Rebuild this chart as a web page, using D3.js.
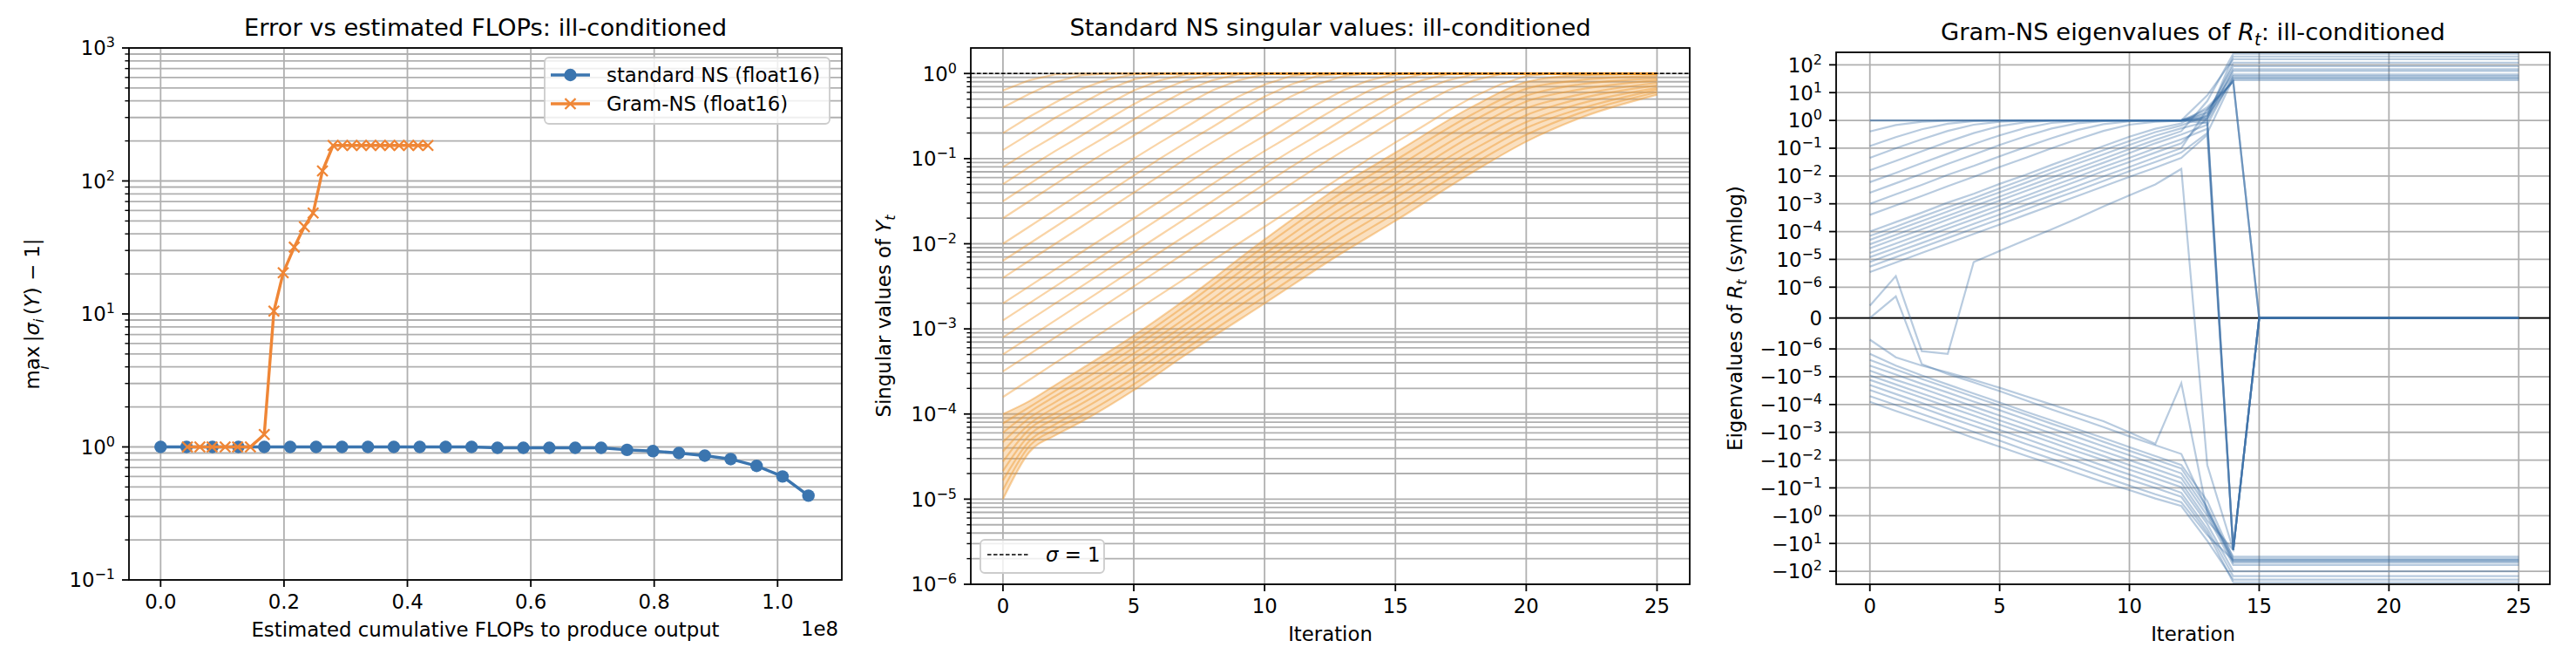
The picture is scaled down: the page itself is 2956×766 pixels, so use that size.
<!DOCTYPE html>
<html>
<head>
<meta charset="utf-8">
<script src="https://cdn.jsdelivr.net/npm/d3@7"></script>
<style>
  html, body { margin: 0; padding: 0; background: #fff; }
  svg { display: block; }
</style>
</head>
<body>
<div id="chart"></div>
<script>
/* ============================================================
   Newton-Schulz comparison — three panels, ill-conditioned case
   ============================================================ */

/* ---------- Panel 1: error vs FLOPs ---------- */
const stdFlops = [0, 4.2e6, 8.4e6, 1.26e7, 1.68e7, 2.1e7, 2.52e7, 2.94e7, 3.36e7, 3.78e7, 4.2e7, 4.62e7, 5.04e7,
  5.46e7, 5.88e7, 6.3e7, 6.72e7, 7.14e7, 7.56e7, 7.98e7, 8.4e7, 8.82e7, 9.24e7, 9.66e7, 1.008e8, 1.05e8];
const stdErr = [1, 1, 1, 1, 1, 1, 1, 1, 1, 1, 1, 1, 1,
  0.985, 0.985, 0.985, 0.985, 0.985, 0.95, 0.93, 0.90, 0.86, 0.81, 0.72, 0.60, 0.43];
const gramFlops = [4.34e6, 6.36e6, 8.34e6, 1.046e7, 1.248e7, 1.455e7, 1.68e7, 1.836e7, 1.987e7, 2.166e7, 2.33e7,
  2.472e7, 2.623e7, 2.795e7, 2.948e7, 3.101e7, 3.254e7, 3.407e7, 3.56e7, 3.713e7, 3.866e7, 4.019e7, 4.172e7, 4.333e7];
const gramErr = [1, 1, 1, 1, 1, 1, 1.24, 10.5, 20.4, 31.8, 45.3, 57.4, 119,
  185, 185, 185, 185, 185, 185, 185, 185, 185, 185, 185];
const p1XTicks = [0, 2e7, 4e7, 6e7, 8e7, 1e8];
const p1XLabels = ['0.0', '0.2', '0.4', '0.6', '0.8', '1.0'];

/* ---------- Panel 2: standard NS singular values (log10 of sigma) ---------- */
const iterations = [0, 1, 2, 3, 4, 5, 6, 7, 8, 9, 10, 11, 12, 13, 14, 15, 16, 17, 18, 19, 20, 21, 22, 23, 24, 25];
const fanLog10 = [
  [-0.2, -0.08, -0.01, 0, 0, 0, 0, 0, 0, 0, 0, 0, 0, 0, 0, 0, 0, 0, 0, 0, 0, 0, 0, 0, 0, 0],
  [-0.4, -0.24, -0.1, -0.02, 0, 0, 0, 0, 0, 0, 0, 0, 0, 0, 0, 0, 0, 0, 0, 0, 0, 0, 0, 0, 0, 0],
  [-0.7, -0.51, -0.34, -0.18, -0.07, -0.01, 0, 0, 0, 0, 0, 0, 0, 0, 0, 0, 0, 0, 0, 0, 0, 0, 0, 0, 0, 0],
  [-0.9, -0.71, -0.52, -0.35, -0.19, -0.07, -0.01, 0, 0, 0, 0, 0, 0, 0, 0, 0, 0, 0, 0, 0, 0, 0, 0, 0, 0, 0],
  [-1.1, -0.91, -0.73, -0.54, -0.36, -0.2, -0.08, -0.01, 0, 0, 0, 0, 0, 0, 0, 0, 0, 0, 0, 0, 0, 0, 0, 0, 0, 0],
  [-1.3, -1.1, -0.91, -0.73, -0.54, -0.36, -0.2, -0.08, -0.01, 0, 0, 0, 0, 0, 0, 0, 0, 0, 0, 0, 0, 0, 0, 0, 0, 0],
  [-1.5, -1.3, -1.1, -0.91, -0.73, -0.54, -0.36, -0.2, -0.08, -0.01, 0, 0, 0, 0, 0, 0, 0, 0, 0, 0, 0, 0, 0, 0, 0, 0],
  [-1.7, -1.5, -1.3, -1.1, -0.91, -0.73, -0.54, -0.36, -0.2, -0.08, -0.01, 0, 0, 0, 0, 0, 0, 0, 0, 0, 0, 0, 0, 0, 0, 0],
  [-2.0, -1.8, -1.6, -1.4, -1.2, -1.0, -0.81, -0.63, -0.44, -0.27, -0.13, -0.03, 0, 0, 0, 0, 0, 0, 0, 0, 0, 0, 0, 0, 0, 0],
  [-2.2, -2.0, -1.8, -1.6, -1.4, -1.2, -1.0, -0.81, -0.63, -0.44, -0.27, -0.13, -0.03, 0, 0, 0, 0, 0, 0, 0, 0, 0, 0, 0, 0, 0],
  [-2.4, -2.2, -2.0, -1.8, -1.6, -1.4, -1.2, -1.0, -0.81, -0.63, -0.44, -0.27, -0.13, -0.03, 0, 0, 0, 0, 0, 0, 0, 0, 0, 0, 0, 0],
  [-2.7, -2.5, -2.3, -2.1, -1.9, -1.7, -1.5, -1.3, -1.1, -0.91, -0.73, -0.54, -0.36, -0.2, -0.08, -0.01, 0, 0, 0, 0, 0, 0, 0, 0, 0, 0],
  [-2.9, -2.7, -2.5, -2.3, -2.1, -1.9, -1.7, -1.5, -1.3, -1.1, -0.91, -0.73, -0.54, -0.36, -0.2, -0.08, -0.01, 0, 0, 0, 0, 0, 0, 0, 0, 0],
  [-3.1, -2.9, -2.7, -2.5, -2.3, -2.1, -1.9, -1.7, -1.5, -1.3, -1.1, -0.91, -0.73, -0.54, -0.36, -0.2, -0.08, -0.01, 0, 0, 0, 0, 0, 0, 0, 0],
  [-3.3, -3.1, -2.9, -2.7, -2.5, -2.3, -2.1, -1.9, -1.7, -1.5, -1.3, -1.1, -0.91, -0.73, -0.54, -0.36, -0.2, -0.08, -0.01, 0, 0, 0, 0, 0, 0, 0],
  [-3.5, -3.3, -3.1, -2.9, -2.7, -2.5, -2.3, -2.1, -1.9, -1.7, -1.5, -1.3, -1.1, -0.91, -0.73, -0.54, -0.36, -0.2, -0.08, -0.01, 0, 0, 0, 0, 0, 0],
  [-3.8, -3.6, -3.4, -3.2, -3.0, -2.8, -2.6, -2.4, -2.2, -2.0, -1.8, -1.6, -1.4, -1.2, -1.0, -0.81, -0.63, -0.44, -0.27, -0.13, -0.03, 0, 0, 0, 0, 0]
];
// dense cluster of small singular values, read at a subset of iterations
const bandIters = [0, 1, 2, 3, 5, 7, 10, 13, 15, 18, 20, 22, 25];
const bandLog10 = [
  [-4.0, -3.85, -3.66, -3.47, -3.08, -2.65, -1.95, -1.3, -0.93, -0.38, -0.1, -0.02, 0],
  [-4.11, -3.92, -3.73, -3.54, -3.15, -2.72, -2.03, -1.39, -1.02, -0.47, -0.18, -0.08, -0.03],
  [-4.22, -3.98, -3.79, -3.61, -3.22, -2.79, -2.12, -1.48, -1.11, -0.55, -0.26, -0.13, -0.06],
  [-4.33, -4.05, -3.86, -3.68, -3.29, -2.87, -2.2, -1.57, -1.2, -0.64, -0.33, -0.19, -0.08],
  [-4.44, -4.12, -3.92, -3.75, -3.36, -2.94, -2.28, -1.66, -1.29, -0.72, -0.41, -0.25, -0.11],
  [-4.56, -4.18, -3.99, -3.82, -3.44, -3.01, -2.37, -1.74, -1.37, -0.81, -0.49, -0.3, -0.14],
  [-4.67, -4.25, -4.05, -3.88, -3.51, -3.08, -2.45, -1.83, -1.46, -0.89, -0.57, -0.36, -0.17],
  [-4.78, -4.32, -4.12, -3.95, -3.58, -3.16, -2.53, -1.92, -1.55, -0.98, -0.64, -0.42, -0.19],
  [-4.89, -4.38, -4.18, -4.02, -3.65, -3.23, -2.62, -2.01, -1.64, -1.06, -0.72, -0.47, -0.22],
  [-5.0, -4.45, -4.25, -4.09, -3.72, -3.3, -2.7, -2.1, -1.73, -1.15, -0.8, -0.53, -0.25]
];
const p2XTicks = [0, 5, 10, 15, 20, 25];

/* ---------- Panel 3: Gram-NS eigenvalues of R_t ---------- */
const eigLines = [
  [1, 1, 1, 1, 1, 1, 1, 1, 1, 1, 1, 1, 1, 1.5, 120, 120, 120, 120, 120, 120, 120, 120, 120, 120, 120, 120],
  [1, 1, 1, 1, 1, 1, 1, 1, 1, 1, 1, 1, 1, 2.5, 25, 0, 0, 0, 0, 0, 0, 0, 0, 0, 0, 0],
  [0.4, 0.68, 0.9, 0.98, 1, 1, 1, 1, 1, 1, 1, 1, 1, 1.3, 200, 200, 200, 200, 200, 200, 200, 200, 200, 200, 200, 200],
  [0.12, 0.25, 0.48, 0.76, 0.94, 0.99, 1, 1, 1, 1, 1, 1, 1, 1.2, 60, 60, 60, 60, 60, 60, 60, 60, 60, 60, 60, 60],
  [0.045, 0.1, 0.21, 0.42, 0.7, 0.9, 0.98, 1, 1, 1, 1, 1, 1, 1.8, 90, 90, 90, 90, 90, 90, 90, 90, 90, 90, 90, 90],
  [0.016, 0.035, 0.077, 0.17, 0.35, 0.62, 0.86, 0.97, 1, 1, 1, 1, 1, 8, 160, 160, 160, 160, 160, 160, 160, 160, 160, 160, 160, 160],
  [6e-3, 0.013, 0.029, 0.064, 0.14, 0.29, 0.54, 0.81, 0.95, 0.99, 1, 1, 1, 1.1, -17, 0, 0, 0, 0, 0, 0, 0, 0, 0, 0, 0],
  [2.5e-3, 5.5e-3, 0.012, 0.027, 0.059, 0.13, 0.27, 0.51, 0.79, 0.95, 0.99, 1, 1, 2, 45, 45, 45, 45, 45, 45, 45, 45, 45, 45, 45, 45],
  [1e-3, 2.2e-3, 4.8e-3, 0.011, 0.023, 0.051, 0.11, 0.23, 0.45, 0.73, 0.92, 0.99, 1, 1, 35, 35, 35, 35, 35, 35, 35, 35, 35, 35, 35, 35],
  [4e-4, 8.8e-4, 1.9e-3, 4.3e-3, 9.4e-3, 0.021, 0.045, 0.1, 0.21, 0.42, 0.7, 0.9, 0.98, 0.8, -17, 0, 0, 0, 0, 0, 0, 0, 0, 0, 0, 0],
  [1e-4, 2.2e-4, 4.8e-4, 1.1e-3, 2.3e-3, 5.2e-3, 0.011, 0.025, 0.055, 0.12, 0.26, 0.5, 0.78, 3, 25, 0, 0, 0, 0, 0, 0, 0, 0, 0, 0, 0],
  [7e-5, 1.5e-4, 3.4e-4, 7.5e-4, 1.6e-3, 3.6e-3, 8e-3, 0.018, 0.039, 0.085, 0.18, 0.38, 0.66, 1.5, 28, 28, 28, 28, 28, 28, 28, 28, 28, 28, 28, 28],
  [5e-5, 1.1e-4, 2.4e-4, 5.3e-4, 1.2e-3, 2.6e-3, 5.7e-3, 0.013, 0.028, 0.06, 0.13, 0.28, 0.52, 0.9, -17, 0, 0, 0, 0, 0, 0, 0, 0, 0, 0, 0],
  [3.5e-5, 7.7e-5, 1.7e-4, 3.7e-4, 8.2e-4, 1.8e-3, 4e-3, 8.8e-3, 0.019, 0.042, 0.093, 0.2, 0.41, 5, 250, 250, 250, 250, 250, 250, 250, 250, 250, 250, 250, 250],
  [2.5e-5, 5.5e-5, 1.2e-4, 2.7e-4, 5.9e-4, 1.3e-3, 2.9e-3, 6.3e-3, 0.014, 0.03, 0.067, 0.15, 0.31, 0.7, 40, 40, 40, 40, 40, 40, 40, 40, 40, 40, 40, 40],
  [1.7e-5, 3.7e-5, 8.2e-5, 1.8e-4, 4e-4, 8.8e-4, 1.9e-3, 4.3e-3, 9.4e-3, 0.021, 0.045, 0.1, 0.21, 0.5, -17, 0, 0, 0, 0, 0, 0, 0, 0, 0, 0, 0],
  [1.2e-5, 2.6e-5, 5.8e-5, 1.3e-4, 2.8e-4, 6.2e-4, 1.4e-3, 3e-3, 6.6e-3, 0.015, 0.032, 0.07, 0.15, 1.2, 70, 70, 70, 70, 70, 70, 70, 70, 70, 70, 70, 70],
  [8e-6, 1.8e-5, 3.9e-5, 8.5e-5, 1.9e-4, 4.1e-4, 9e-4, 2e-3, 4.4e-3, 9.7e-3, 0.021, 0.047, 0.1, 2.5, 26, 0, 0, 0, 0, 0, 0, 0, 0, 0, 0, 0],
  [5.5e-6, 1.2e-5, 2.7e-5, 5.9e-5, 1.3e-4, 2.8e-4, 6.2e-4, 1.4e-3, 3e-3, 6.6e-3, 0.015, 0.032, 0.07, 0.35, 32, 32, 32, 32, 32, 32, 32, 32, 32, 32, 32, 32],
  [3.5e-6, 7.7e-6, 1.7e-5, 3.7e-5, 8.2e-5, 1.8e-4, 4e-4, 8.8e-4, 1.9e-3, 4.2e-3, 9.3e-3, 0.02, 0.045, 0.3, -17, 0, 0, 0, 0, 0, 0, 0, 0, 0, 0, 0],
  [-1.5e-6, -4e-6, -9e-6, -1.9e-5, -4e-5, -8.4e-5, -1.8e-4, -3.7e-4, -7.8e-4, -1.6e-3, -3.4e-3, -7.2e-3, -0.015, -0.3, -35, -35, -35, -35, -35, -35, -35, -35, -35, -35, -35, -35],
  [-2.5e-6, -5.5e-6, -1.2e-5, -2.5e-5, -5.3e-5, -1.1e-4, -2.3e-4, -4.9e-4, -1e-3, -2.2e-3, -4.6e-3, -9.6e-3, -0.02, -0.5, -45, -45, -45, -45, -45, -45, -45, -45, -45, -45, -45, -45],
  [-4e-6, -8.4e-6, -1.8e-5, -3.7e-5, -7.8e-5, -1.6e-4, -3.4e-4, -7.2e-4, -1.5e-3, -3.2e-3, -6.7e-3, -0.014, -0.03, -0.7, -30, -30, -30, -30, -30, -30, -30, -30, -30, -30, -30, -30],
  [-6e-6, -1.3e-5, -2.6e-5, -5.6e-5, -1.2e-4, -2.5e-4, -5.2e-4, -1.1e-3, -2.3e-3, -4.8e-3, -0.01, -0.021, -0.044, -1, -60, -60, -60, -60, -60, -60, -60, -60, -60, -60, -60, -60],
  [-9e-6, -1.9e-5, -4e-5, -8.3e-5, -1.7e-4, -3.7e-4, -7.7e-4, -1.6e-3, -3.4e-3, -7.1e-3, -0.015, -0.031, -0.066, -1.5, -17, 0, 0, 0, 0, 0, 0, 0, 0, 0, 0, 0],
  [-1.3e-5, -2.7e-5, -5.7e-5, -1.2e-4, -2.5e-4, -5.3e-4, -1.1e-3, -2.3e-3, -4.9e-3, -0.01, -0.022, -0.045, -0.095, -2, -100, -100, -100, -100, -100, -100, -100, -100, -100, -100, -100, -100],
  [-2e-5, -4.2e-5, -8.8e-5, -1.9e-4, -3.9e-4, -8.2e-4, -1.7e-3, -3.6e-3, -7.6e-3, -0.016, -0.033, -0.07, -0.15, -3, -150, -150, -150, -150, -150, -150, -150, -150, -150, -150, -150, -150],
  [-3e-5, -6.3e-5, -1.3e-4, -2.8e-4, -5.8e-4, -1.2e-3, -2.6e-3, -5.4e-3, -0.011, -0.024, -0.05, -0.1, -0.21, -4, -250, -250, -250, -250, -250, -250, -250, -250, -250, -250, -250, -250],
  [-5e-5, -1.05e-4, -2.2e-4, -4.6e-4, -9.7e-4, -2e-3, -4.3e-3, -9e-3, -0.019, -0.04, -0.083, -0.17, -0.33, -5, -40, -40, -40, -40, -40, -40, -40, -40, -40, -40, -40, -40],
  [-8e-5, -1.7e-4, -3.5e-4, -7.4e-4, -1.6e-3, -3.3e-3, -6.9e-3, -0.014, -0.03, -0.062, -0.12, -0.24, -0.45, -8, -200, -200, -200, -200, -200, -200, -200, -200, -200, -200, -200, -200],
  [4e-7, 2.5e-6, -1.2e-6, -1.5e-6, 8e-6, 2e-5, 5e-5, 1.2e-4, 3e-4, 8e-4, 2e-3, 5e-3, 0.018, -0.015, -17, 0, 0, 0, 0, 0, 0, 0, 0, 0, 0, 0],
  [0, 7e-7, -3.5e-6, -8e-6, -1.6e-5, -3.3e-5, -7e-5, -1.5e-4, -3.1e-4, -6.5e-4, -1.4e-3, -2.9e-3, -6e-3, -0.6, -50, -50, -50, -50, -50, -50, -50, -50, -50, -50, -50, -50],
  [-7e-7, -2e-6, -4e-6, -7e-6, -1.3e-5, -2.5e-5, -5e-5, -1e-4, -2e-4, -4e-4, -1e-3, -2.6e-3, -1.7e-5, -0.8, -40, -40, -40, -40, -40, -40, -40, -40, -40, -40, -40, -40]
];
const p3YTicks = [100, 10, 1, 0.1, 0.01, 1e-3, 1e-4, 1e-5, 1e-6, 0, -1e-6, -1e-5, -1e-4, -1e-3, -0.01, -0.1, -1, -10, -100];

(function () {
  'use strict';

  const FS = 22.8;          // tick / label font size
  const SUP = 16;           // superscript size
  const GRID = '#b0b0b0';
  const C_BLUE = '#3b75af';
  const C_ORANGE = '#ef8636';

  const svg = d3.select('#chart').append('svg')
    .attr('width', 2956).attr('height', 766)
    .attr('font-family', '"DejaVu Sans", sans-serif')
    .attr('font-size', FS)
    .attr('fill', '#000');
  const defs = svg.append('defs');

  /* ---------- Helpers ---------- */
  function clipFor(id, b) {
    defs.append('clipPath').attr('id', id).append('rect')
      .attr('x', b.x0).attr('y', b.y0).attr('width', b.x1 - b.x0).attr('height', b.y1 - b.y0);
    return 'url(#' + id + ')';
  }

  function hGrid(g, b, ys) {
    g.append('g').selectAll('line').data(ys).join('line')
      .attr('x1', b.x0).attr('x2', b.x1)
      .attr('y1', d => d).attr('y2', d => d)
      .attr('stroke', GRID).attr('stroke-width', 1.8);
  }

  function vGrid(g, b, xs) {
    g.append('g').selectAll('line').data(xs).join('line')
      .attr('y1', b.y0).attr('y2', b.y1)
      .attr('x1', d => d).attr('x2', d => d)
      .attr('stroke', GRID).attr('stroke-width', 1.8);
  }

  function yTickMarks(g, b, ys, len, w) {
    g.append('g').selectAll('line').data(ys).join('line')
      .attr('x1', b.x0 - len).attr('x2', b.x0)
      .attr('y1', d => d).attr('y2', d => d)
      .attr('stroke', '#000').attr('stroke-width', w);
  }

  function xTicks(g, b, xs, labels) {
    g.append('g').selectAll('line').data(xs).join('line')
      .attr('x1', d => d).attr('x2', d => d)
      .attr('y1', b.y1).attr('y2', b.y1 + 8)
      .attr('stroke', '#000').attr('stroke-width', 1.8);
    g.append('g').selectAll('text').data(xs).join('text')
      .attr('x', d => d).attr('y', b.y1 + 33)
      .attr('text-anchor', 'middle')
      .text((d, i) => labels[i]);
  }

  // "10^k" (optionally negated) tick label
  function powLabel(g, x, y, exp, neg) {
    const t = g.append('text').attr('x', x).attr('y', y + 8.3).attr('text-anchor', 'end');
    t.append('tspan').text((neg ? '\u2212' : '') + '10');
    t.append('tspan').attr('dy', -9).attr('font-size', SUP)
      .text(exp < 0 ? '\u2212' + (-exp) : String(exp));
    return t;
  }

  function frame(g, b) {
    g.append('rect')
      .attr('x', b.x0).attr('y', b.y0).attr('width', b.x1 - b.x0).attr('height', b.y1 - b.y0)
      .attr('fill', 'none').attr('stroke', '#000').attr('stroke-width', 1.8);
  }

  function title(g, b, y) {
    return g.append('text').attr('x', (b.x0 + b.x1) / 2).attr('y', y)
      .attr('text-anchor', 'middle').attr('font-size', FS * 1.2);
  }

  const isMajor = v => Math.abs(Math.log10(v) - Math.round(Math.log10(v))) < 1e-9;

  /* ============================================================
     Panel 1
     ============================================================ */
  const B1 = { x0: 148, x1: 966, y0: 55, y1: 665 };
  const g1 = svg.append('g');
  const x1 = d3.scaleLinear().domain([-5.13e6, 1.1041e8]).range([B1.x0, B1.x1]);
  const y1 = d3.scaleLog().domain([0.1, 1000]).range([B1.y1, B1.y0]);
  const y1Ticks = y1.ticks();

  hGrid(g1, B1, y1Ticks.map(y1));
  vGrid(g1, B1, p1XTicks.map(x1));

  const clip1 = clipFor('clip1', B1);
  const plot1 = g1.append('g').attr('clip-path', clip1);
  const line1 = d3.line().x(d => x1(d[0])).y(d => y1(d[1]));

  const stdPts = d3.zip(stdFlops, stdErr);
  const gramPts = d3.zip(gramFlops, gramErr);

  plot1.append('path').attr('d', line1(stdPts))
    .attr('fill', 'none').attr('stroke', C_BLUE).attr('stroke-width', 3.4);
  plot1.append('g').selectAll('circle').data(stdPts).join('circle')
    .attr('cx', d => x1(d[0])).attr('cy', d => y1(d[1])).attr('r', 7.2)
    .attr('fill', C_BLUE);

  const xMark = 'M-6,-6L6,6M-6,6L6,-6';
  plot1.append('path').attr('d', line1(gramPts))
    .attr('fill', 'none').attr('stroke', C_ORANGE).attr('stroke-width', 3.4);
  plot1.append('g').selectAll('path').data(gramPts).join('path')
    .attr('transform', d => `translate(${x1(d[0])},${y1(d[1])})`)
    .attr('d', xMark).attr('stroke', C_ORANGE).attr('stroke-width', 2.3).attr('fill', 'none');

  frame(g1, B1);
  yTickMarks(g1, B1, y1Ticks.filter(v => !isMajor(v)).map(y1), 4.6, 1.4);
  yTickMarks(g1, B1, y1Ticks.filter(isMajor).map(y1), 8, 1.8);
  y1Ticks.filter(isMajor).forEach(v => powLabel(g1, B1.x0 - 16, y1(v), Math.round(Math.log10(v)), false));
  xTicks(g1, B1, p1XTicks.map(x1), p1XLabels);
  g1.append('text').attr('x', B1.x1 - 4).attr('y', 729).attr('text-anchor', 'end').text('1e8');

  title(g1, B1, 41).text('Error vs estimated FLOPs: ill-conditioned');
  g1.append('text').attr('x', (B1.x0 + B1.x1) / 2).attr('y', 730).attr('text-anchor', 'middle')
    .text('Estimated cumulative FLOPs to produce output');

  // y label: max_i |sigma_i(Y) - 1|
  const yl1 = g1.append('g').attr('transform', `translate(45,${(B1.y0 + B1.y1) / 2}) rotate(-90)`);
  const yl1t = yl1.append('text').attr('x', 0).attr('y', 0);
  const maxSpan = yl1t.append('tspan').text('max');
  yl1t.append('tspan').text('\u2009|');
  yl1t.append('tspan').attr('font-style', 'italic').text('\u03c3');
  yl1t.append('tspan').attr('font-style', 'italic').attr('font-size', SUP).attr('dy', 5).text('i');
  yl1t.append('tspan').attr('dy', -5).text('\u2009(');
  yl1t.append('tspan').attr('font-style', 'italic').text('Y');
  yl1t.append('tspan').text(') \u2212 1|');
  const wAll = yl1t.node().getComputedTextLength();
  const wMax = maxSpan.node().getComputedTextLength();
  yl1t.attr('x', -wAll / 2);
  yl1.append('text').attr('x', -wAll / 2 + wMax / 2).attr('y', 11)
    .attr('text-anchor', 'middle').attr('font-size', SUP).attr('font-style', 'italic').text('i');

  // legend
  const lg1 = g1.append('g');
  lg1.append('rect').attr('x', 625).attr('y', 66).attr('width', 327).attr('height', 76).attr('rx', 5)
    .attr('fill', '#fff').attr('fill-opacity', 0.8).attr('stroke', '#cccccc').attr('stroke-width', 1.8);
  lg1.append('line').attr('x1', 632).attr('x2', 677).attr('y1', 86).attr('y2', 86)
    .attr('stroke', C_BLUE).attr('stroke-width', 3.4);
  lg1.append('circle').attr('cx', 654.5).attr('cy', 86).attr('r', 7.2).attr('fill', C_BLUE);
  lg1.append('text').attr('x', 696).attr('y', 94).text('standard NS (float16)');
  lg1.append('line').attr('x1', 632).attr('x2', 677).attr('y1', 119).attr('y2', 119)
    .attr('stroke', C_ORANGE).attr('stroke-width', 3.4);
  lg1.append('path').attr('transform', 'translate(654.5,119)').attr('d', xMark)
    .attr('stroke', C_ORANGE).attr('stroke-width', 2.3);
  lg1.append('text').attr('x', 696).attr('y', 127).text('Gram-NS (float16)');

  /* ============================================================
     Panel 2
     ============================================================ */
  const B2 = { x0: 1114, x1: 1939, y0: 55, y1: 670 };
  const g2 = svg.append('g');
  const x2 = d3.scaleLinear().domain([-1.23, 26.25]).range([B2.x0, B2.x1]);
  const y2 = d3.scaleLog().domain([1e-6, 1.995]).range([B2.y1, B2.y0]);
  const y2Ticks = y2.ticks();

  hGrid(g2, B2, y2Ticks.map(y2));
  vGrid(g2, B2, p2XTicks.map(x2));

  const plot2 = g2.append('g').attr('clip-path', clipFor('clip2', B2));
  const C_SV = '#f0982e';

  // filled cluster region between the outermost band lines
  const bandArea = d3.area()
    .x((d, i) => x2(bandIters[i]))
    .y0((d, i) => y2(Math.pow(10, bandLog10[bandLog10.length - 1][i])))
    .y1(d => y2(Math.pow(10, d)))
    .curve(d3.curveMonotoneX);
  plot2.append('path').attr('d', bandArea(bandLog10[0]))
    .attr('fill', C_SV).attr('fill-opacity', 0.3);

  const bandLine = d3.line()
    .x((d, i) => x2(bandIters[i])).y(d => y2(Math.pow(10, d)))
    .curve(d3.curveMonotoneX);
  plot2.append('g').selectAll('path').data(bandLog10).join('path')
    .attr('d', bandLine).attr('fill', 'none')
    .attr('stroke', C_SV).attr('stroke-width', 2.2).attr('stroke-opacity', 0.45);

  const fanLine = d3.line()
    .x((d, i) => x2(iterations[i])).y(d => y2(Math.pow(10, d)));
  plot2.append('g').selectAll('path').data(fanLog10).join('path')
    .attr('d', fanLine).attr('fill', 'none')
    .attr('stroke', C_SV).attr('stroke-width', 2.2).attr('stroke-opacity', 0.42);

  // sigma = 1 reference
  plot2.append('line').attr('x1', B2.x0).attr('x2', B2.x1).attr('y1', y2(1)).attr('y2', y2(1))
    .attr('stroke', '#000').attr('stroke-width', 1.6).attr('stroke-dasharray', '4.5,2.5');

  frame(g2, B2);
  yTickMarks(g2, B2, y2Ticks.filter(v => !isMajor(v)).map(y2), 4.6, 1.4);
  yTickMarks(g2, B2, y2Ticks.filter(isMajor).map(y2), 8, 1.8);
  y2Ticks.filter(isMajor).forEach(v => powLabel(g2, B2.x0 - 16, y2(v), Math.round(Math.log10(v)), false));
  xTicks(g2, B2, p2XTicks.map(x2), p2XTicks.map(String));

  title(g2, B2, 41).text('Standard NS singular values: ill-conditioned');
  g2.append('text').attr('x', (B2.x0 + B2.x1) / 2).attr('y', 735).attr('text-anchor', 'middle').text('Iteration');
  const yl2 = g2.append('text').attr('text-anchor', 'middle')
    .attr('transform', `translate(1022,${(B2.y0 + B2.y1) / 2}) rotate(-90)`);
  yl2.append('tspan').text('Singular values of ');
  yl2.append('tspan').attr('font-style', 'italic').text('Y');
  yl2.append('tspan').attr('font-size', SUP).attr('font-style', 'italic').attr('dy', 5).text('t');

  // legend
  const lg2 = g2.append('g');
  lg2.append('rect').attr('x', 1125).attr('y', 619).attr('width', 142).attr('height', 38).attr('rx', 5)
    .attr('fill', '#fff').attr('fill-opacity', 0.8).attr('stroke', '#cccccc').attr('stroke-width', 1.8);
  lg2.append('line').attr('x1', 1133).attr('x2', 1181).attr('y1', 636).attr('y2', 636)
    .attr('stroke', '#000').attr('stroke-width', 1.6).attr('stroke-dasharray', '4.5,2.5');
  const lg2t = lg2.append('text').attr('x', 1200).attr('y', 644);
  lg2t.append('tspan').attr('font-style', 'italic').text('\u03c3');
  lg2t.append('tspan').text(' = 1');

  /* ============================================================
     Panel 3 (symlog, linthresh 1e-6)
     ============================================================ */
  const B3 = { x0: 2107, x1: 2926, y0: 60, y1: 670 };
  const g3 = svg.append('g');
  const LINTHRESH = 1e-6;
  const LINSCALE = 1 / (1 - 1 / 10);
  const symlog = v => {
    const a = Math.abs(v);
    const s = a <= LINTHRESH ? (a / LINTHRESH) * LINSCALE : LINSCALE + Math.log10(a / LINTHRESH);
    return v < 0 ? -s : s;
  };
  const x3 = d3.scaleLinear().domain([-1.3, 26.2]).range([B3.x0, B3.x1]);
  const y3 = d3.scaleLinear().domain([symlog(-294), symlog(282)]).range([B3.y1, B3.y0]);
  const Y3 = v => y3(symlog(v));

  hGrid(g3, B3, p3YTicks.map(Y3));
  vGrid(g3, B3, p2XTicks.map(x3));

  const plot3 = g3.append('g').attr('clip-path', clipFor('clip3', B3));
  plot3.append('line').attr('x1', B3.x0).attr('x2', B3.x1).attr('y1', Y3(0)).attr('y2', Y3(0))
    .attr('stroke', '#000').attr('stroke-width', 1.8);

  const eigLine = d3.line().x((d, i) => x3(iterations[i])).y(d => Y3(d));
  plot3.append('g').selectAll('path').data(eigLines).join('path')
    .attr('d', eigLine).attr('fill', 'none')
    .attr('stroke', '#3a6ea5').attr('stroke-width', 2.2).attr('stroke-opacity', 0.36);

  frame(g3, B3);
  yTickMarks(g3, B3, p3YTicks.map(Y3), 8, 1.8);
  p3YTicks.forEach(v => {
    if (v === 0) {
      g3.append('text').attr('x', B3.x0 - 16).attr('y', Y3(0) + 8.3).attr('text-anchor', 'end').text('0');
    } else {
      powLabel(g3, B3.x0 - 16, Y3(v), Math.round(Math.log10(Math.abs(v))), v < 0);
    }
  });
  xTicks(g3, B3, p2XTicks.map(x3), p2XTicks.map(String));

  const t3 = title(g3, B3, 46);
  t3.append('tspan').text('Gram-NS eigenvalues of ');
  t3.append('tspan').attr('font-style', 'italic').text('R');
  t3.append('tspan').attr('font-style', 'italic').attr('font-size', SUP * 1.2).attr('dy', 6).text('t');
  t3.append('tspan').attr('dy', -6).text(': ill-conditioned');

  g3.append('text').attr('x', (B3.x0 + B3.x1) / 2).attr('y', 735).attr('text-anchor', 'middle').text('Iteration');
  const yl3 = g3.append('text').attr('text-anchor', 'middle')
    .attr('transform', `translate(1999,${(B3.y0 + B3.y1) / 2}) rotate(-90)`);
  yl3.append('tspan').text('Eigenvalues of ');
  yl3.append('tspan').attr('font-style', 'italic').text('R');
  yl3.append('tspan').attr('font-size', SUP).attr('font-style', 'italic').attr('dy', 5).text('t');
  yl3.append('tspan').attr('dy', -5).text(' (symlog)');
})();
</script>
</body>
</html>
